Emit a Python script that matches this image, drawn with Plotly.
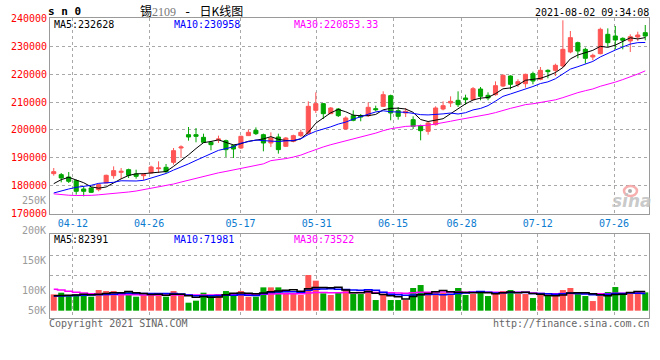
import plotly.graph_objects as go
import pandas as pd

# ---------------- data ----------------
dates = ["04-07","04-08","04-09","04-12","04-13","04-14","04-15","04-16","04-19","04-20",
         "04-21","04-22","04-23","04-26","04-27","04-28","04-29","04-30","05-06","05-07",
         "05-10","05-11","05-12","05-13","05-14","05-17","05-18","05-19","05-20","05-21",
         "05-24","05-25","05-26","05-27","05-28","05-31","06-01","06-02","06-03","06-04",
         "06-07","06-08","06-09","06-10","06-11","06-15","06-16","06-17","06-18","06-21",
         "06-22","06-23","06-24","06-25","06-28","06-29","06-30","07-01","07-02","07-05",
         "07-06","07-07","07-08","07-09","07-12","07-13","07-14","07-15","07-16","07-19",
         "07-20","07-21","07-22","07-23","07-26","07-27","07-28","07-29","07-30","08-02"]

opens = [184410,184050,183210,181910,178930,179290,178690,181070,183690,184880,
         185830,184290,183690,184640,186190,186670,188450,193570,198330,198330,
         197380,195600,196430,196190,194410,193570,197980,199880,198330,195360,
         197500,194170,195950,197980,198690,207020,209410,205830,207500,200360,
         205120,205120,205120,207620,208450,212260,206910,206070,203690,201550,
         199520,201910,207500,209640,210600,211430,210830,214640,212380,212620,
         215710,219290,216310,216550,220120,218100,221310,221310,222860,227860,
         231190,228810,226070,227260,234170,233570,232740,231790,233210,234760]
highs = [186430,184640,185000,182260,179880,179640,180830,184050,187020,186430,
         186190,185830,184640,187260,188810,187860,193570,194520,201070,200710,
         198690,195950,197980,196550,194760,197980,200120,200950,198690,199170,
         198690,197500,198330,200120,210240,213450,209640,208210,207860,204880,
         207020,205710,209880,208690,213810,212620,208210,207860,204880,201910,
         203100,208450,210240,212020,213810,212620,215360,215360,213450,217380,
         219880,219520,218100,220120,220830,222500,221670,223690,239170,235360,
         231550,229410,227260,236550,236310,237140,233100,234170,235120,237500]
lows = [183690,181310,181070,176910,176310,177500,178100,181070,182620,182500,
        182860,182620,182020,184520,184640,184640,187620,190000,196190,195600,
        195360,192740,195360,190360,190000,193210,197980,198210,192380,193930,
        191550,193930,195600,197500,198450,206070,203930,205830,204640,200120,
        203100,203100,204640,206670,208210,203450,203690,204640,200360,196310,
        198330,201550,207020,208210,208210,209050,210600,210600,210600,212260,
        215360,214520,215360,215120,216310,217740,218450,219290,222260,227380,
        225600,223690,224880,227020,229640,228810,228810,227860,231790,232020]
closes = [185120,182860,181670,178100,178100,177740,180480,183810,185480,185240,
          183810,183450,184050,186790,186430,185120,192620,193930,197500,197740,
          195600,194760,196790,192980,193210,197740,199170,198690,195360,197140,
          192980,197140,197980,199170,208450,209410,205830,207860,205120,204290,
          203450,204640,208100,207260,212620,206070,204880,206670,201310,199760,
          202500,207860,208690,210240,209050,210830,214760,212020,211430,215830,
          219520,216310,217260,219880,217500,221310,220830,223100,228810,232980,
          228210,225600,226670,235950,231190,232140,232020,233330,233930,233570]
volumes = [69500,76600,66700,69500,66700,59600,87900,83700,83700,69500,
           83700,59600,66700,66700,73800,59600,83700,66700,34000,42600,
           76600,66700,70900,83700,73800,83700,59600,59600,99300,99300,
           99300,76600,70900,66700,151800,127700,73800,66700,79400,92200,
           70900,70900,92200,45400,66700,45400,45400,45400,96500,109200,
           70900,79400,75200,70900,96500,66700,70900,83700,62400,79400,
           83700,87900,70900,70900,53900,66700,62400,62400,87900,96500,
           75200,62400,41100,62400,79400,100700,66700,79400,83700,78000]

# moving-average values for the first sessions (need history before the window)
ma5_head = [180830, 182260, 183100, 182020]
ma10_head = [177500, 178330, 178930, 179520, 179880, 180240, 180950, 181190, 181310]
ma30_head = [177200, 176900, 176700, 176600, 176550, 176650, 176850, 177050, 177250, 177550,
             177850, 178200, 178650, 179150, 179650, 180100, 180700, 181400, 182100, 182850,
             183550, 184150, 184700, 185200, 185750, 186300, 186900, 187400, 187900]
vma5_head = [64000, 65000, 66000, 67000]
vma10_head = [62400, 63000, 64000, 65000, 66000, 67000, 68000, 69000, 70000]
vma30_head = [91000, 88000, 83000, 78000, 75000, 72000, 70000, 69000, 68500, 68000,
              67500, 67500, 67000, 67000, 67000, 67000, 67000, 67000, 67000, 66500,
              66500, 66500, 67000, 67500, 68000, 68500, 69000, 69500, 70000]

date_ticks = ["04-12", "04-26", "05-17", "05-31", "06-15", "06-28", "07-12", "07-26"]
price_ticks = [170000, 180000, 190000, 200000, 210000, 220000, 230000, 240000]
vol_labels = ["200K", "150K", "100K", "50K"]

title_name = "锡"
title_code = "2109"
title_sep = " - "
title_rest = "日K线图"
symbol_text = "s n 0"
timestamp = "2021-08-02 09:34:08"
ma_price_text = ["MA5:232628", "MA10:230958", "MA30:220853.33"]
ma_vol_text = ["MA5:82391", "MA10:71981", "MA30:73522"]

# ---------------- derived ----------------
n = len(dates)
xs = list(range(n))
c = pd.Series(closes, dtype=float)
v = pd.Series(volumes, dtype=float)

def ma(series, w, head):
    m = series.rolling(w).mean()
    m.iloc[:len(head)] = head
    return m.tolist()

ma5, ma10, ma30 = ma(c, 5, ma5_head), ma(c, 10, ma10_head), ma(c, 30, ma30_head)
vma5, vma10, vma30 = ma(v, 5, vma5_head), ma(v, 10, vma10_head), ma(v, 30, vma30_head)

RED = "#FF5555"
GREEN = "#00A600"
MONO = "DejaVu Sans Mono"
bar_colors = [RED if cl >= op else GREEN for op, cl in zip(opens, closes)]
tick_pos = [dates.index(d) * 1.018 - 0.5 for d in date_ticks]

fig = go.Figure()
fig.add_trace(go.Candlestick(
    x=xs, open=opens, high=highs, low=lows, close=closes,
    increasing=dict(line=dict(color=RED, width=1), fillcolor=RED),
    decreasing=dict(line=dict(color=GREEN, width=1), fillcolor=GREEN),
    whiskerwidth=0, xaxis="x", yaxis="y", hoverinfo="skip", showlegend=False))
for ys, col in [(ma5, "#000000"), (ma10, "#0000FF"), (ma30, "#FF00FF")]:
    fig.add_trace(go.Scatter(x=xs, y=ys, mode="lines", line=dict(color=col, width=1),
                             xaxis="x", yaxis="y", hoverinfo="skip", showlegend=False))

fig.add_trace(go.Bar(x=xs, y=volumes, marker=dict(color=bar_colors, line=dict(width=0)),
                     width=0.8, xaxis="x2", yaxis="y2", hoverinfo="skip", showlegend=False))
for ys, col in [(vma30, "#FF00FF"), (vma10, "#0000FF"), (vma5, "#000000")]:
    fig.add_trace(go.Scatter(x=xs, y=ys, mode="lines", line=dict(color=col, width=1.5, shape="hvh"),
                             xaxis="x2", yaxis="y2", hoverinfo="skip", showlegend=False))

grid = dict(showgrid=True, gridcolor="#A8A8A8", griddash="dot", gridwidth=1,
            showline=True, mirror=True, linecolor="#9A9A9A", linewidth=1, zeroline=False, ticks="")

fig.update_layout(
    width=660, height=360,
    margin=dict(l=50, r=11, t=18, b=42),
    paper_bgcolor="white", plot_bgcolor="white",
    boxgap=0.22,
    xaxis=dict(domain=[0, 1], range=[-0.5, n - 0.5], anchor="y", tickvals=tick_pos, ticktext=date_ticks,
               tickfont=dict(family=MONO, size=10, color="#0B7BD0"), rangeslider=dict(visible=False), **grid),
    xaxis2=dict(domain=[0, 1], range=[-0.5, n - 0.5], anchor="y2", matches="x", tickvals=tick_pos,
                showticklabels=False, **grid),
    yaxis=dict(domain=[0.3467, 1], range=[170000, 240000], tickvals=price_ticks,
               tickformat="d", tickfont=dict(family=MONO, size=10, color="#FF0000"), **grid),
    yaxis2=dict(domain=[0, 0.28], range=[-31100, 326400], tickvals=[150600, 237000],
                showticklabels=False, **grid),
    font=dict(family=MONO, size=10, color="#000"),
)

def px_x(p):
    return (p - 50) / 599.0

def px_y(p):
    return (318 - p) / 300.0

ann = []
def add(text, x, y, xanchor="left", color="#000", size=10, family=MONO, **kw):
    ann.append(dict(text=text, x=px_x(x), y=px_y(y), xref="paper", yref="paper",
                    xanchor=xanchor, yanchor="middle", showarrow=False, borderpad=0,
                    font=dict(family=family, size=size, color=color, **kw)))

add(symbol_text, 47, 12, size=11, weight="bold")
sep = title_sep.replace(" ", "&nbsp;")
add(f'{title_name}<span style="font-family:Liberation Serif;color:#777777;font-size:12px">{title_code}</span>'
    f'<span style="font-family:DejaVu Sans Mono;font-size:13px">{sep}</span>{title_rest}',
    139, 10.5, size=12, family="Noto Sans CJK SC")
add(timestamp, 650, 12.3, xanchor="right", size=10)
for txt, col, x in zip(ma_price_text, ["#000000", "#0000FF", "#FF00FF"], [53, 173, 293]):
    add(txt, x, 24.5, color=col)
for txt, col, x in zip(ma_vol_text, ["#000000", "#0000FF", "#FF00FF"], [53, 173, 293]):
    add(txt, x, 239, color=col)
add("250K", 47, 200, xanchor="right", color="#9A9A9A", size=10)
for txt, y in zip(vol_labels, [230, 260, 290.7, 310.7]):
    add(txt, 47, y, xanchor="right", color="#9A9A9A", size=10)
add("Copyright 2021 SINA.COM", 48, 323.5, color="#666666")
add("http://finance.sina.com.cn", 651, 323.5, xanchor="right", color="#666666")
add("sina", 653, 201, xanchor="right", color="rgba(195,195,195,0.9)", size=17,
    family="DejaVu Sans", style="italic", weight="bold")
fig.update_layout(annotations=ann)

fig.add_shape(type="circle", xref="paper", yref="paper",
              x0=px_x(624), x1=px_x(637), y0=px_y(196), y1=px_y(186),
              line=dict(color="rgba(245,160,160,0.85)", width=2.5))
fig.add_shape(type="circle", xref="paper", yref="paper",
              x0=px_x(628), x1=px_x(632), y0=px_y(193), y1=px_y(189),
              line=dict(width=0), fillcolor="rgba(150,150,150,0.8)")

fig.write_html("out.html", config={"displayModeBar": False},
               post_script="document.body.style.margin='0px';")
